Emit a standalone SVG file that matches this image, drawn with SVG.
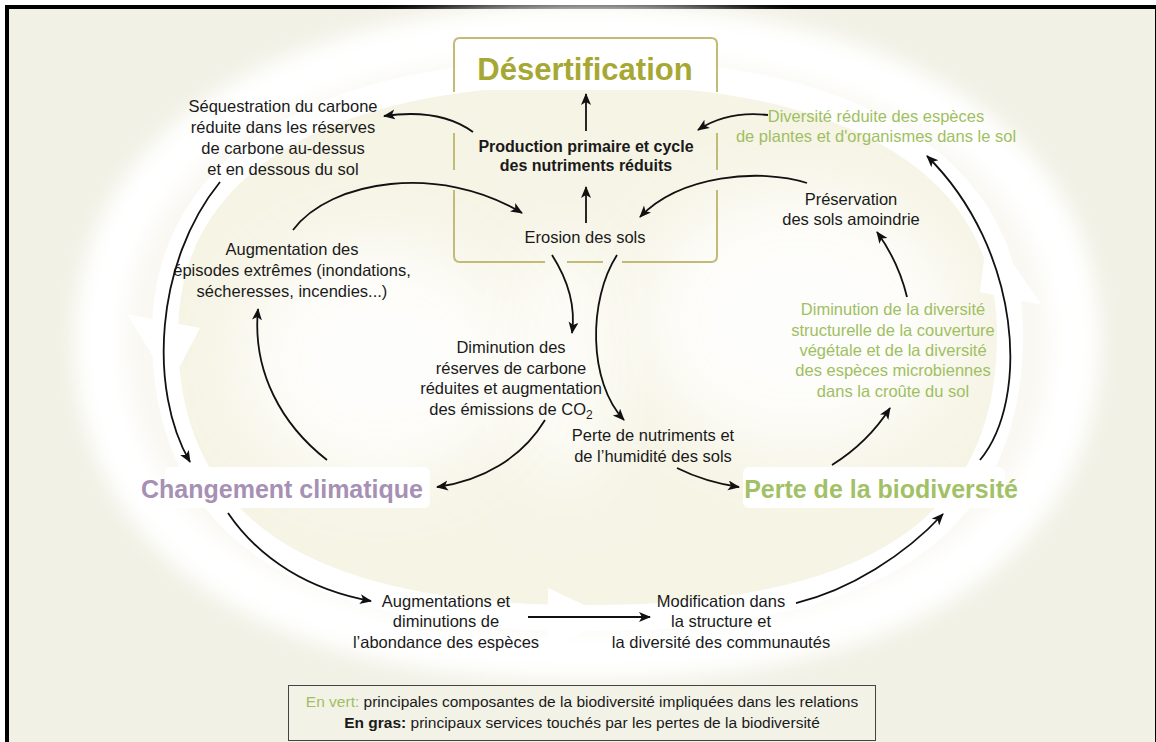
<svg xmlns="http://www.w3.org/2000/svg" width="1156" height="742" viewBox="0 0 1156 742">
<style>
.t{font-family:"Liberation Sans",Arial,sans-serif;font-size:16.5px;fill:#1a1a1a;text-anchor:middle}
.g{fill:#9fbf62}
.pb{font-weight:bold;font-size:16px}
.big{font-weight:bold}
.lg{font-family:"Liberation Sans",Arial,sans-serif;font-size:15.5px;fill:#1a1a1a;text-anchor:middle}
.c{fill:none;stroke:#111;stroke-width:1.8;marker-end:url(#ah)}
.box{fill:none;stroke:#c2bb78;stroke-width:2}
</style>
<defs>
<marker id="ah" markerUnits="userSpaceOnUse" markerWidth="13" markerHeight="11" refX="11" refY="5" orient="auto">
<path d="M0,0 L12,5 L0,10 L3,5 z" fill="#111"/>
</marker>
<filter id="blur" x="-20%" y="-20%" width="140%" height="140%"><feGaussianBlur stdDeviation="10"/></filter>
<filter id="blur2" x="-50%" y="-50%" width="200%" height="200%"><feGaussianBlur stdDeviation="35"/></filter>
</defs>
<rect x="0" y="0" width="1156" height="742" fill="#ffffff"/>
<rect x="5" y="5" width="1151" height="737" fill="#000"/>
<rect x="9" y="9" width="1146" height="733" fill="#f2f1e6"/>
<g id="background">
<path filter="url(#blur)" fill="#f9f8f2" stroke="#ffffff" stroke-width="50" d="M587,30 C890,30 1075,150 1075,340 C1075,540 900,655 587,655 C275,655 100,540 100,340 C100,150 285,30 587,30 Z"/>
<path fill="#f6f4e5" d="M587,72 C858,72 1010,167 1010,335 C1010,527 875,618 587,618 C300,618 165,527 165,335 C165,167 316,72 587,72 Z"/>
<ellipse cx="380" cy="360" rx="140" ry="120" fill="#ffffff" opacity="0.85" filter="url(#blur2)"/>
<ellipse cx="800" cy="320" rx="160" ry="130" fill="#ffffff" opacity="0.85" filter="url(#blur2)"/>
<ellipse cx="565" cy="360" rx="40" ry="130" fill="#ffffff" opacity="0.95" filter="url(#blur2)"/>
<path fill="none" stroke="#ffffff" stroke-width="26" d="M587,72 C858,72 1010,167 1010,335 C1010,527 875,618 587,618 C300,618 165,527 165,335 C165,167 316,72 587,72 Z"/>
<polygon fill="#ffffff" points="127,314 200,328 170,385"/>
<polygon fill="#ffffff" points="980,292 1042,305 988,228"/>
<polygon fill="#ffffff" points="548,588 548,650 612,618"/>
</g>
<g id="desertification">
<path class="box" d="M454,92 L454,44 Q454,38 460,38 L711,38 Q717,38 717,44 L717,92"/>
<path class="box" d="M454,133 L454,170 M454,190 L454,256 Q454,262 460,262 L545,262 M567,262 L603,262 M622,262 L711,262 Q717,262 717,256 L717,190 M717,170 L717,133"/>
<rect x="457" y="46" width="258" height="44" fill="#ffffff"/>
<text class="t big" x="585" y="80" style="font-size:31px;fill:#a6a833">Désertification</text>
</g>
<g id="production">
<text class="t pb" x="586" y="152">Production primaire et cycle</text>
<text class="t pb" x="586" y="171">des nutriments réduits</text>
</g>
<g id="erosion"><text class="t" x="585" y="243">Erosion des sols</text></g>
<g id="sequestration">
<text class="t" x="283" y="112">Séquestration du carbone</text>
<text class="t" x="283" y="133">réduite dans les réserves</text>
<text class="t" x="283" y="154">de carbone au-dessus</text>
<text class="t" x="283" y="175">et en dessous du sol</text>
</g>
<g id="episodes">
<text class="t" x="292" y="255">Augmentation des</text>
<text class="t" x="292" y="276">épisodes extrêmes (inondations,</text>
<text class="t" x="292" y="297">sécheresses, incendies...)</text>
</g>
<g id="diversite-reduite">
<text class="t g" x="876" y="122">Diversité réduite des espèces</text>
<text class="t g" x="876" y="142">de plantes et d'organismes dans le sol</text>
</g>
<g id="preservation">
<text class="t" x="851" y="205">Préservation</text>
<text class="t" x="851" y="225">des sols amoindrie</text>
</g>
<g id="diminution-diversite">
<text class="t g" x="893" y="315">Diminution de la diversité</text>
<text class="t g" x="893" y="336">structurelle de la couverture</text>
<text class="t g" x="893" y="356">végétale et de la diversité</text>
<text class="t g" x="893" y="376">des espèces microbiennes</text>
<text class="t g" x="893" y="397">dans la croûte du sol</text>
</g>
<g id="reserves-carbone">
<text class="t" x="511" y="353">Diminution des</text>
<text class="t" x="511" y="374">réserves de carbone</text>
<text class="t" x="511" y="394">réduites et augmentation</text>
<text class="t" x="511" y="415">des émissions de CO<tspan style="font-size:12px" dy="4">2</tspan></text>
</g>
<g id="nutriments">
<text class="t" x="653" y="441">Perte de nutriments et</text>
<text class="t" x="653" y="462">de l’humidité des sols</text>
</g>
<g id="changement-climatique">
<rect x="165" y="467" width="265" height="41" rx="6" fill="#ffffff"/>
<text class="t big" x="282" y="498" style="font-size:25px;fill:#a690b3">Changement climatique</text>
</g>
<g id="perte-biodiversite">
<rect x="743" y="467" width="262" height="41" rx="6" fill="#ffffff"/>
<text class="t big" x="881" y="498" style="font-size:25px;fill:#a2c166">Perte de la biodiversité</text>
</g>
<g id="abondance">
<text class="t" x="446" y="607">Augmentations et</text>
<text class="t" x="446" y="627">diminutions de</text>
<text class="t" x="446" y="648">l’abondance des espèces</text>
</g>
<g id="communautes">
<text class="t" x="721" y="607">Modification dans</text>
<text class="t" x="721" y="627">la structure et</text>
<text class="t" x="721" y="648">la diversité des communautés</text>
</g>
<g id="connectors">
<path class="c" d="M586,131 L586,94"/>
<path class="c" d="M586,223 L586,187"/>
<path class="c" d="M473,132 Q440,108 384,116"/>
<path class="c" d="M293,230 C330,180 440,163 522,213"/>
<path class="c" d="M220,182 C155,262 148,390 190,462"/>
<path class="c" d="M327,460 C282,425 252,372 258,309"/>
<path class="c" d="M552,255 C568,280 576,305 572,333"/>
<path class="c" d="M617,255 C588,300 588,382 624,420"/>
<path class="c" d="M545,420 C522,458 482,481 437,487"/>
<path class="c" d="M677,468 Q705,482 739,487"/>
<path class="c" d="M228,513 C260,560 310,590 371,601"/>
<path class="c" d="M528,617 L650,617"/>
<path class="c" d="M796,603 C850,590 905,555 943,514"/>
<path class="c" d="M980,460 C1030,400 1022,250 927,156"/>
<path class="c" d="M832,465 C856,450 876,430 890,408"/>
<path class="c" d="M907,297 C901,272 890,250 877,232"/>
<path class="c" d="M807,183 C760,168 680,175 640,217"/>
<path class="c" d="M768,115 C740,112 716,118 698,130"/>
</g>
<g id="legend">
<rect x="288.5" y="685.5" width="587" height="55" fill="#f3f2e7" stroke="#444" stroke-width="1"/>
<text class="lg" x="582" y="707"><tspan style="fill:#9fbf62">En vert:</tspan> principales composantes de la biodiversité impliquées dans les relations</text>
<text class="lg" x="582" y="728"><tspan style="font-weight:bold">En gras:</tspan> principaux services touchés par les pertes de la biodiversité</text>
</g>
</svg>
